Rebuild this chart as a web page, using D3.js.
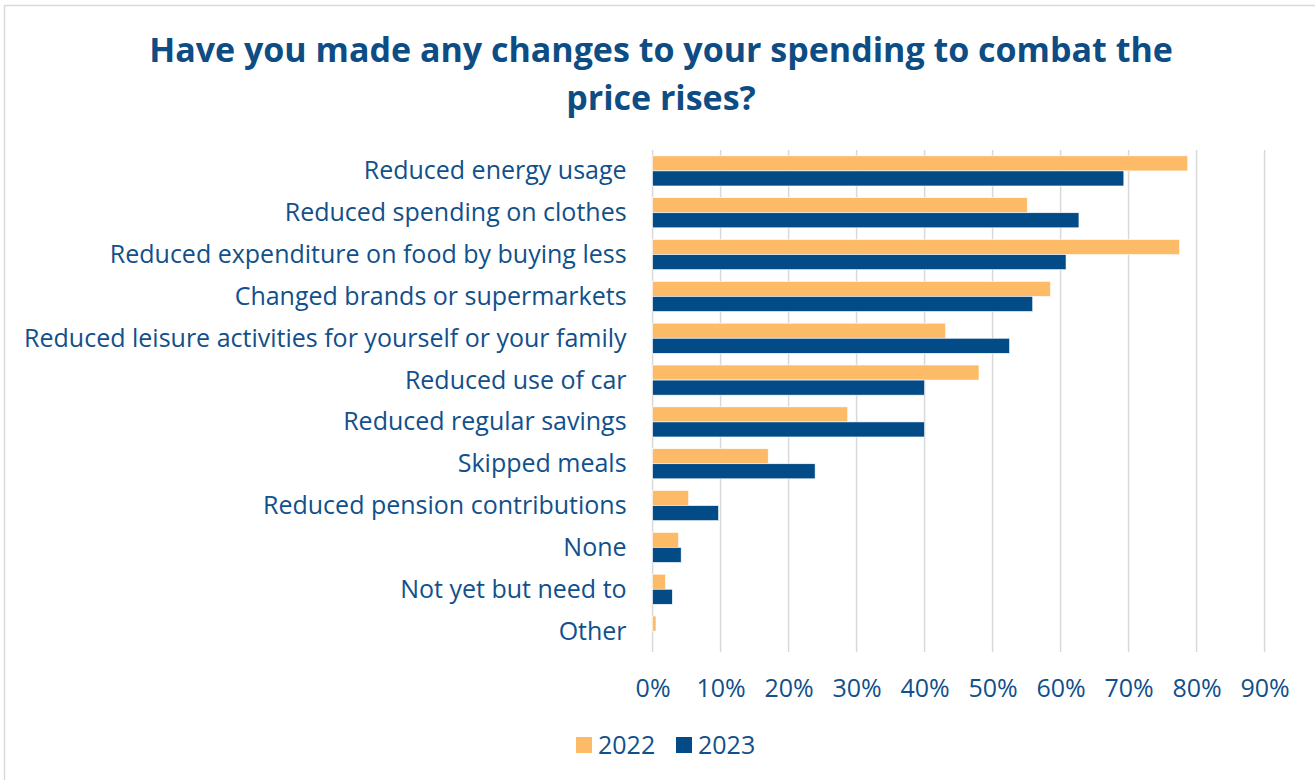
<!DOCTYPE html>
<html>
<head>
<meta charset="utf-8">
<script src="https://cdn.jsdelivr.net/npm/d3@7"></script>
<style>
  html, body { margin: 0; padding: 0; background: #ffffff; }
  svg { display: block; font-family: "Open Sans", "Noto Sans", sans-serif; }
</style>
</head>
<body>
<svg id="chart" width="1315" height="780"></svg>
<script>
// Survey responses: share of respondents making each spending change
const categories = [
  "Reduced energy usage",
  "Reduced spending on clothes",
  "Reduced expenditure on food by buying less",
  "Changed brands or supermarkets",
  "Reduced leisure activities for yourself or your family",
  "Reduced use of car",
  "Reduced regular savings",
  "Skipped meals",
  "Reduced pension contributions",
  "None",
  "Not yet but need to",
  "Other"
];
const seriesNames = ["2022", "2023"];
const values2022 = [78.7, 55.1, 77.5, 58.5, 43.1, 48.0, 28.7, 17.0, 5.3, 3.8, 1.9, 0.5];
const values2023 = [69.3, 62.7, 60.8, 55.9, 52.5, 40.0, 40.0, 23.9, 9.7, 4.2, 2.9, 0];
const tickValues = [0, 10, 20, 30, 40, 50, 60, 70, 80, 90];

const colors = { "2022": "#FDBB68", "2023": "#034B87" };
const textColor = "#11508A";
const labelSize = 25;

const svg = d3.select("#chart");
const W = 1315, H = 780;

// outer frame
svg.append("rect")
  .attr("x", 4.5).attr("y", 5.5)
  .attr("width", W + 10).attr("height", H + 10)
  .attr("fill", "#ffffff")
  .attr("stroke", "#d9d9d9").attr("stroke-width", 1.5);

// title
const title = svg.append("text")
  .attr("text-anchor", "middle")
  .attr("fill", "#0E4C84")
  .attr("font-size", 34)
  .attr("font-weight", 700);
title.append("tspan").attr("x", 661).attr("y", 62)
  .text("Have you made any changes to your spending to combat the");
title.append("tspan").attr("x", 661).attr("y", 110)
  .text("price rises?");

const plot = { left: 652.6, right: 1264.6, top: 150, bottom: 652 };

const x = d3.scaleLinear().domain([0, 90]).range([plot.left, plot.right]);
const y = d3.scaleBand().domain(categories).range([plot.top, plot.bottom]).paddingInner(0.28).paddingOuter(0.14);
const ySub = d3.scaleBand().domain(seriesNames).range([0, y.bandwidth()]);

// vertical gridlines
svg.append("g")
  .selectAll("line")
  .data(tickValues)
  .join("line")
  .attr("x1", d => x(d)).attr("x2", d => x(d))
  .attr("y1", plot.top).attr("y2", plot.bottom)
  .attr("stroke", "#d9d9d9").attr("stroke-width", 1.5);

// bars
const rows = categories.map((c, i) => ({ cat: c, vals: [
  { key: "2022", v: values2022[i] },
  { key: "2023", v: values2023[i] }
]}));

const groups = svg.append("g").selectAll("g")
  .data(rows)
  .join("g")
  .attr("transform", d => `translate(0,${y(d.cat)})`);

groups.selectAll("rect")
  .data(d => d.vals.filter(o => o.v > 0))
  .join("rect")
  .attr("x", x(0))
  .attr("y", d => ySub(d.key))
  .attr("width", d => x(d.v) - x(0))
  .attr("height", ySub.bandwidth())
  .attr("fill", d => colors[d.key])
  .attr("stroke", "#ffffff").attr("stroke-width", 0.6);

// category axis
const yAxis = svg.append("g")
  .attr("transform", `translate(${plot.left - 26},0)`)
  .call(d3.axisLeft(y).tickSize(0).tickPadding(0));
yAxis.select(".domain").remove();
yAxis.selectAll("text")
  .attr("fill", textColor)
  .attr("font-size", labelSize)
  .attr("font-family", "'Open Sans', sans-serif")
  .attr("dy", "0.34em");

// value axis
const xAxis = svg.append("g")
  .attr("transform", `translate(0,${plot.bottom})`)
  .call(d3.axisBottom(x).tickValues(tickValues).tickFormat(d => d + "%").tickSize(0).tickPadding(27));
xAxis.select(".domain").remove();
xAxis.selectAll("text")
  .attr("fill", textColor)
  .attr("font-size", labelSize)
  .attr("font-family", "'Open Sans', sans-serif");

// legend
const legend = svg.append("g");
const legendItems = [
  { key: "2022", sx: 576, tx: 598 },
  { key: "2023", sx: 676, tx: 698 }
];
legendItems.forEach(item => {
  legend.append("rect")
    .attr("x", item.sx).attr("y", 737)
    .attr("width", 16).attr("height", 16)
    .attr("fill", colors[item.key]);
  legend.append("text")
    .attr("x", item.tx).attr("y", 754)
    .attr("fill", textColor)
    .attr("font-size", labelSize)
    .text(item.key);
});
</script>
</body>
</html>
